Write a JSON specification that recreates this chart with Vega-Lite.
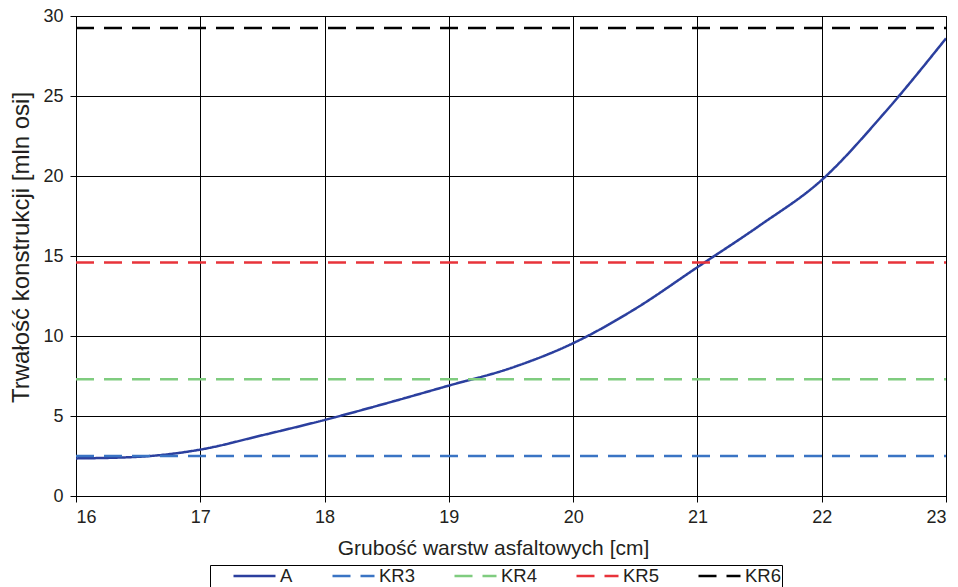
{
  "$schema": "https://vega.github.io/schema/vega-lite/v6.json",
  "autosize": {"type": "none"},
  "padding": {"left": 76, "top": 16, "right": 12, "bottom": 91},
  "width": 870,
  "height": 480,
  "background": "white",
  "config": {
    "font": "Liberation Sans",
    "view": {"stroke": "#000000", "strokeWidth": 1},
    "axis": {
      "gridColor": "#000000", "gridWidth": 1, "gridOpacity": 1,
      "domainColor": "#000000", "tickColor": "#000000", "tickSize": 6,
      "labelColor": "#231f20", "titleColor": "#231f20",
      "labelFontSize": 18, "titleFontSize": 21, "titleFontWeight": "normal"
    }
  },
  "data": {"values": [
    {"x": 16, "y": 2.35, "s": "A"},
    {"x": 16.5, "y": 2.45, "s": "A"},
    {"x": 17, "y": 2.9, "s": "A"},
    {"x": 17.5, "y": 3.8, "s": "A"},
    {"x": 18, "y": 4.75, "s": "A"},
    {"x": 18.5, "y": 5.8, "s": "A"},
    {"x": 19, "y": 6.9, "s": "A"},
    {"x": 19.5, "y": 8.0, "s": "A"},
    {"x": 20, "y": 9.55, "s": "A"},
    {"x": 20.5, "y": 11.7, "s": "A"},
    {"x": 21, "y": 14.3, "s": "A"},
    {"x": 21.5, "y": 16.9, "s": "A"},
    {"x": 22, "y": 19.75, "s": "A"},
    {"x": 22.5, "y": 23.9, "s": "A"},
    {"x": 23, "y": 28.6, "s": "A"},
    {"x": 16, "y": 2.5, "s": "KR3"},
    {"x": 23, "y": 2.5, "s": "KR3"},
    {"x": 16, "y": 7.3, "s": "KR4"},
    {"x": 23, "y": 7.3, "s": "KR4"},
    {"x": 16, "y": 14.6, "s": "KR5"},
    {"x": 23, "y": 14.6, "s": "KR5"},
    {"x": 16, "y": 29.25, "s": "KR6"},
    {"x": 23, "y": 29.25, "s": "KR6"}
  ]},
  "mark": {"type": "line", "strokeWidth": 2.5, "interpolate": "monotone", "clip": true},
  "encoding": {
    "x": {"field": "x", "type": "quantitative", "scale": {"domain": [16, 23], "nice": false, "zero": false},
      "axis": {"values": [16, 17, 18, 19, 20, 21, 22, 23], "title": "Grubość warstw asfaltowych [cm]", "titlePadding": 11, "labelPadding": 6, "titleX": 417}},
    "y": {"field": "y", "type": "quantitative", "scale": {"domain": [0, 30], "nice": false},
      "axis": {"values": [0, 5, 10, 15, 20, 25, 30], "title": "Trwałość konstrukcji [mln osi]", "titleFontSize": 24, "titlePadding": 9, "labelPadding": 7, "titleY": 231}},
    "color": {"field": "s", "type": "nominal", "title": null,
      "scale": {"domain": ["A", "KR3", "KR4", "KR5", "KR6"], "range": ["#2b3f9e", "#3a74c4", "#7fcc7f", "#e8333a", "#000000"]},
      "legend": {"orient": "none", "legendX": 134, "legendY": 549, "direction": "horizontal", "columns": 5,
        "symbolType": "stroke", "symbolSize": 1764, "symbolStrokeWidth": 2.5, "symbolOffset": 21, "labelFontSize": 18.5, "labelColor": "#231f20",
        "labelOffset": 3, "columnPadding": 17, "clipHeight": 20, "strokeColor": "#000000", "padding": 1, "fillColor": "white"}},
    "strokeDash": {"field": "s", "type": "nominal", "title": null,
      "scale": {"domain": ["A", "KR3", "KR4", "KR5", "KR6"], "range": [[1, 0], [18, 10], [18, 10], [18, 10], [18, 10]]}}
  }
}
